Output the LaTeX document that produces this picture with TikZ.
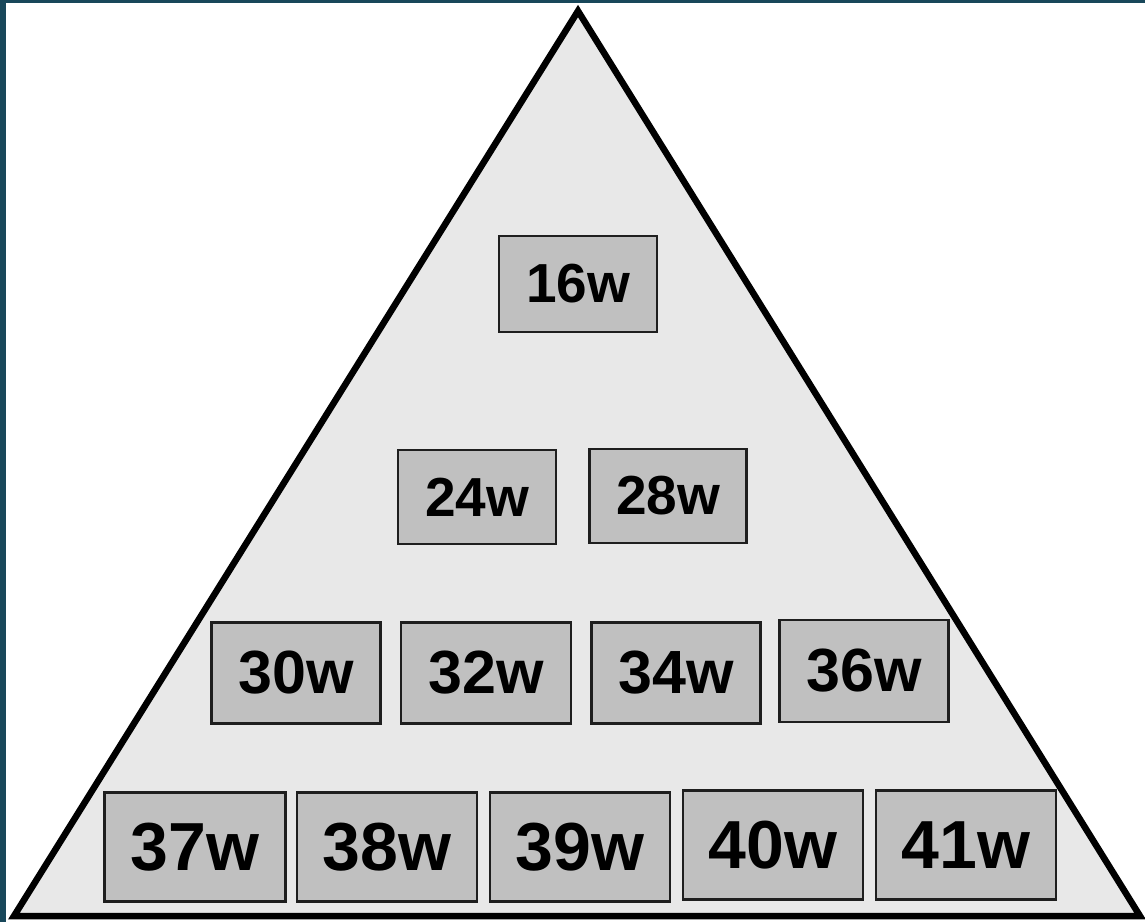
\documentclass[tikz,border=0pt]{standalone}
\usepackage{fontspec}
\setmainfont{Liberation Sans}
\definecolor{frame}{HTML}{18475A}
\definecolor{trifill}{HTML}{E8E8E8}
\definecolor{boxfill}{HTML}{C0C0C0}
\definecolor{boxline}{HTML}{1E1E1E}
\tikzset{
  wbox/.style={draw=boxline, line width=2.8pt, fill=boxfill, inner sep=0pt,
    font=\bfseries, text=black, anchor=center},
}
\begin{document}
\begin{tikzpicture}[x=1pt,y=-1pt]
\useasboundingbox (0,0) rectangle (1145,922);
\fill[frame] (0,0) rectangle (1145,922);
\fill[white] (6,3) rectangle (1145,922);
% pyramid
\draw[line width=6.5pt, line join=miter, fill=trifill] (578,11) -- (1140,916) -- (14,916) -- cycle;
% row 1
\node[wbox, minimum width=158pt, minimum height=96pt, font=\fontsize{55}{60}\selectfont\bfseries] (b16) at (578,284) {16w};
% row 2
\node[wbox, minimum width=158pt, minimum height=94pt, font=\fontsize{55}{60}\selectfont\bfseries] (b24) at (477,497) {24w};
\node[wbox, minimum width=157pt, minimum height=94pt, font=\fontsize{55}{60}\selectfont\bfseries] (b28) at (668,496) {28w};
% row 3
\node[wbox, minimum width=169pt, minimum height=101pt, font=\fontsize{61}{66}\selectfont\bfseries] (b30) at (296,673) {30w};
\node[wbox, minimum width=170pt, minimum height=101pt, font=\fontsize{61}{66}\selectfont\bfseries] (b32) at (486,673) {32w};
\node[wbox, minimum width=169pt, minimum height=101pt, font=\fontsize{61}{66}\selectfont\bfseries] (b34) at (676,673) {34w};
\node[wbox, minimum width=169pt, minimum height=102pt, font=\fontsize{61}{66}\selectfont\bfseries] (b36) at (864,671) {36w};
% row 4
\node[wbox, minimum width=181pt, minimum height=109pt, font=\fontsize{68}{72}\selectfont\bfseries] (b37) at (195,847) {37w};
\node[wbox, minimum width=180pt, minimum height=109pt, font=\fontsize{68}{72}\selectfont\bfseries] (b38) at (387,847) {38w};
\node[wbox, minimum width=180pt, minimum height=109pt, font=\fontsize{68}{72}\selectfont\bfseries] (b39) at (580,847) {39w};
\node[wbox, minimum width=180pt, minimum height=109pt, font=\fontsize{68}{72}\selectfont\bfseries] (b40) at (773,845) {40w};
\node[wbox, minimum width=180pt, minimum height=109pt, font=\fontsize{68}{72}\selectfont\bfseries] (b41) at (966,845) {41w};
\end{tikzpicture}
\end{document}
